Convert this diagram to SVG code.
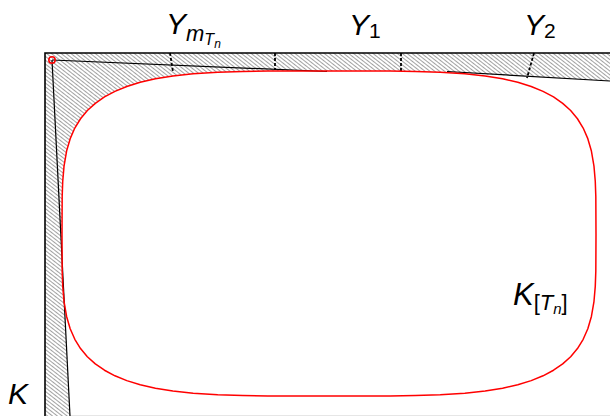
<svg xmlns="http://www.w3.org/2000/svg" width="610" height="416" viewBox="0 0 610 416">
<style>
.lbl{font-family:"Liberation Sans",Arial,sans-serif;font-style:italic;fill:#000}
.up{font-style:normal}
.blk{fill:none;stroke:#000;stroke-width:1.2}
.frm{fill:none;stroke:#000;stroke-width:1.6}
.dsh{fill:none;stroke:#000;stroke-width:1.8;stroke-dasharray:3 2}
.red{fill:none;stroke:#ff0000;stroke-width:1.5;stroke-linejoin:round}
</style>
<defs>
<pattern id="hatch" width="3" height="3" patternUnits="userSpaceOnUse" patternTransform="rotate(38)">
<line x1="0" y1="1.5" x2="3" y2="1.5" stroke="#7a7a7a" stroke-width="0.7"/>
</pattern>
</defs>
<rect width="610" height="416" fill="#fff"/>
<g id="hatched-region">
<path fill="url(#hatch)" d="M45,53 H610 V81 L450,72.5 L440.26,72.24 L415.32,71.45 L390.08,71.11 L329,71 L267.92,71.11 L242.68,71.45 L217.74,72.24 L193.17,73.8 L172.85,75.99 L155.43,78.82 L140.2,82.31 L126.79,86.47 L114.94,91.34 L104.48,96.93 L95.31,103.32 L87.35,110.55 L80.53,118.74 L74.82,128.04 L70.18,138.67 L66.59,151.08 L64.03,166.08 L62.73,181.3 L62.18,196.71 L62,234 L62.1,262 L70,416 H45 Z"/>
</g>
<g id="connectors">
<line x1="70" y1="415.5" x2="610" y2="415.5" stroke="#e6e6e6" stroke-width="1"/>
<path class="blk" d="M52,60 L327,71.5"/>
<path class="blk" d="M447,71.5 L610,81"/>
<path class="blk" d="M52,60 L70,416"/>
<path class="frm" d="M45,416 V53 H610"/>
<path class="dsh" d="M170,53 L173,72"/>
<path class="dsh" d="M275,53 L275,70"/>
<path class="dsh" d="M401,53 L401,71"/>
<path class="dsh" d="M534,53 L527,78"/>
</g>
<g id="K-Tn">
<path class="red" d="M329,71 L390.08,71.11 L415.32,71.45 L440.26,72.24 L464.83,73.8 L485.15,75.99 L502.57,78.82 L517.8,82.31 L531.21,86.47 L543.06,91.34 L553.52,96.93 L562.69,103.32 L570.65,110.55 L577.47,118.74 L583.18,128.04 L587.82,138.67 L591.41,151.08 L593.97,166.08 L595.27,181.3 L595.82,196.71 L596,234 L595.82,271.06 L595.27,286.38 L593.97,301.51 L591.41,316.42 L587.82,328.74 L583.18,339.31 L577.47,348.55 L570.65,356.69 L562.69,363.88 L553.52,370.23 L543.06,375.79 L531.21,380.62 L517.8,384.76 L502.57,388.22 L485.15,391.04 L464.83,393.22 L440.26,394.77 L415.32,395.56 L390.08,395.89 L329,396 L267.92,395.89 L242.68,395.56 L217.74,394.77 L193.17,393.22 L172.85,391.04 L155.43,388.22 L140.2,384.76 L126.79,380.62 L114.94,375.79 L104.48,370.23 L95.31,363.88 L87.35,356.69 L80.53,348.55 L74.82,339.31 L70.18,328.74 L66.59,316.42 L64.03,301.51 L62.73,286.38 L62.18,271.06 L62,234 L62.18,196.71 L62.73,181.3 L64.03,166.08 L66.59,151.08 L70.18,138.67 L74.82,128.04 L80.53,118.74 L87.35,110.55 L95.31,103.32 L104.48,96.93 L114.94,91.34 L126.79,86.47 L140.2,82.31 L155.43,78.82 L172.85,75.99 L193.17,73.8 L217.74,72.24 L242.68,71.45 L267.92,71.11 Z"/>
<text class="lbl" x="513" y="305" font-size="31">K<tspan class="up" font-size="22" dy="5">[</tspan><tspan font-size="22">T</tspan><tspan font-size="15" dy="4">n</tspan><tspan class="up" font-size="22" dy="-4">]</tspan></text>
</g>
<g id="origin">
<circle cx="52" cy="60" r="3.2" fill="none" stroke="#ff0000" stroke-width="1.5"/>
</g>
<g id="K">
<text class="lbl" x="8" y="404" font-size="30">K</text>
</g>
<g id="Y-m">
<text class="lbl" x="166" y="34" font-size="30">Y<tspan font-size="22" dy="7">m</tspan><tspan font-size="16" dy="4">T</tspan><tspan font-size="12" dy="3">n</tspan></text>
</g>
<g id="Y1">
<text class="lbl" x="349" y="35" font-size="30">Y<tspan class="up" font-size="21" dy="3">1</tspan></text>
</g>
<g id="Y2">
<text class="lbl" x="524" y="35" font-size="30">Y<tspan class="up" font-size="21" dy="3">2</tspan></text>
</g>
</svg>
